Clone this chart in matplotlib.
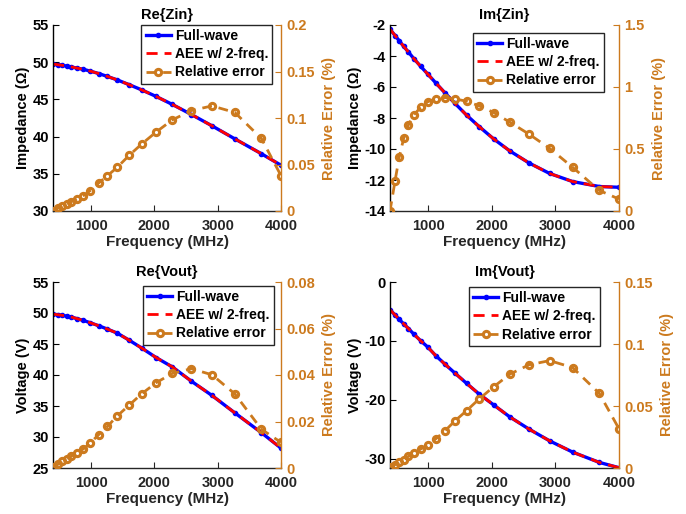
import matplotlib
matplotlib.use("Agg")
import matplotlib.pyplot as plt
from matplotlib.ticker import FuncFormatter

plt.rcParams["font.family"] = ["Liberation Sans", "DejaVu Sans"]
plt.rcParams["font.weight"] = "bold"
plt.rcParams["axes.labelweight"] = "bold"
plt.rcParams["axes.titleweight"] = "bold"

# Frequency grid (MHz), shared by all four panels
freq_mhz = [400, 480, 545, 615, 690, 775, 880, 990, 1120, 1260, 1415,
            1605, 1800, 2030, 2285, 2585, 2910, 3270, 3690, 4000]

# Re{Zin} (Ohm) and relative error (%)
re_zin_fw = [49.75, 49.66, 49.58, 49.48, 49.37, 49.21, 49.04, 48.80, 48.48, 48.08,
             47.62, 46.97, 46.28, 45.39, 44.32, 42.97, 41.45, 39.70, 37.70, 36.15]
re_zin_aee = [49.75, 49.66, 49.58, 49.48, 49.37, 49.21, 49.04, 48.80, 48.48, 48.08,
              47.62, 46.97, 46.28, 45.39, 44.32, 42.97, 41.45, 39.70, 37.70, 36.15]
re_zin_err = [0.0005, 0.003, 0.005, 0.007, 0.010, 0.0125, 0.0165, 0.022, 0.030, 0.038,
              0.047, 0.060, 0.072, 0.085, 0.098, 0.108, 0.113, 0.106, 0.078, 0.038]

# Im{Zin} (Ohm) and relative error (%)
im_zin_fw = [-2.27, -2.68, -3.02, -3.38, -3.75, -4.17, -4.66, -5.15, -5.74, -6.36,
             -7.03, -7.82, -8.55, -9.35, -10.13, -10.90, -11.58, -12.10, -12.42, -12.47]
im_zin_aee = [-2.27, -2.68, -3.02, -3.38, -3.75, -4.17, -4.66, -5.15, -5.74, -6.36,
              -7.03, -7.82, -8.55, -9.35, -10.13, -10.90, -11.58, -12.10, -12.42, -12.47]
im_zin_err = [0.0, 0.245, 0.435, 0.585, 0.695, 0.775, 0.835, 0.88, 0.905, 0.915,
              0.905, 0.885, 0.848, 0.794, 0.716, 0.62, 0.505, 0.353, 0.166, 0.096]

# Re{Vout} (V) and relative error (%)
re_vout_fw = [49.80, 49.72, 49.62, 49.50, 49.35, 49.10, 48.80, 48.42, 47.95, 47.40,
              46.75, 45.60, 44.35, 42.80, 41.30, 39.00, 36.70, 33.90, 30.70, 28.20]
re_vout_aee = [49.80, 49.72, 49.62, 49.50, 49.35, 49.10, 48.80, 48.42, 47.95, 47.40,
               46.75, 45.60, 44.35, 42.80, 41.30, 39.00, 36.70, 33.90, 30.70, 28.20]
re_vout_err = [0.0004, 0.0016, 0.0028, 0.004, 0.0051, 0.0065, 0.0082, 0.0108, 0.0143, 0.0179,
               0.0224, 0.0271, 0.0319, 0.0367, 0.0407, 0.0427, 0.0401, 0.0319, 0.0167, 0.011]

# Im{Vout} (V) and relative error (%)
im_vout_fw = [-4.7, -5.6, -6.35, -7.1, -7.9, -8.85, -9.95, -11.0, -12.5, -13.9,
              -15.4, -17.2, -19.0, -20.85, -22.9, -24.95, -26.95, -28.85, -30.6, -31.5]
im_vout_aee = [-4.7, -5.6, -6.35, -7.1, -7.9, -8.85, -9.95, -11.0, -12.5, -13.9,
               -15.4, -17.2, -19.0, -20.85, -22.9, -24.95, -26.95, -28.85, -30.6, -31.5]
im_vout_err = [0.0008, 0.0027, 0.0048, 0.0067, 0.0094, 0.0123, 0.0152, 0.0182, 0.0235, 0.0297,
               0.0377, 0.0463, 0.0556, 0.0655, 0.0757, 0.0832, 0.0866, 0.081, 0.0602, 0.0316]

titles = ["Re{Zin}", "Im{Zin}", "Re{Vout}", "Im{Vout}"]
ylabels = ["Impedance (\u03a9)", "Impedance (\u03a9)", "Voltage (V)", "Voltage (V)"]
series = [(re_zin_fw, re_zin_aee, re_zin_err),
          (im_zin_fw, im_zin_aee, im_zin_err),
          (re_vout_fw, re_vout_aee, re_vout_err),
          (im_vout_fw, im_vout_aee, im_vout_err)]

# axis ranges / ticks per panel
left_lims = [(30, 55), (-14, -2), (25, 55), (-31.55, 0)]
left_ticks = [[30, 35, 40, 45, 50, 55], [-14, -12, -10, -8, -6, -4, -2],
              [25, 30, 35, 40, 45, 50, 55], [-30, -20, -10, 0]]
right_lims = [(0, 0.2), (0, 1.5), (0, 0.08), (0, 0.15)]
right_ticks = [[0, 0.05, 0.1, 0.15, 0.2], [0, 0.5, 1, 1.5],
               [0, 0.02, 0.04, 0.06, 0.08], [0, 0.05, 0.1, 0.15]]

# axes rectangles in pixels (left, top, right, bottom) of a 686x514 canvas
W, H = 686, 514
rects_px = [(53, 25, 281, 211), (390, 25, 619, 211),
            (53, 282, 281, 468), (390, 282, 619, 468)]
legend_anchor = [(0.962, 1.0), (0.935, 0.957), (0.969, 0.979), (0.917, 0.973)]

ORANGE = "#CC7A1E"
DARK = "#262626"
fmt = FuncFormatter(lambda v, p: f"{v:g}")

fig = plt.figure(figsize=(W / 100, H / 100), dpi=100)

for i in range(4):
    l, t, r, b = rects_px[i]
    ax = fig.add_axes([l / W, 1 - b / H, (r - l) / W, (b - t) / H])
    ax2 = ax.twinx()
    fw, aee, err = series[i]

    h1, = ax.plot(freq_mhz, fw, color="#0000FF", lw=2.4, marker=".", ms=6,
                  label="Full-wave")
    h2, = ax.plot(freq_mhz, aee, color="#FF0000", lw=2, ls=(0, (4, 2.5)),
                  label="AEE w/ 2-freq.")
    h3, = ax2.plot(freq_mhz, err, color=ORANGE, lw=2, ls=(0, (3.5, 2.5)),
                   marker="o", ms=4.5, mfc="none", mew=2.2,
                   label="Relative error")

    ax.set_xlim(400, 4000)
    ax.set_xticks([1000, 2000, 3000, 4000])
    ax.set_ylim(*left_lims[i])
    ax.set_yticks(left_ticks[i])
    ax2.set_ylim(*right_lims[i])
    ax2.set_yticks(right_ticks[i])
    ax.yaxis.set_major_formatter(fmt)
    ax2.yaxis.set_major_formatter(fmt)

    for s in ["top", "right"]:
        ax.spines[s].set_visible(False)
    for s in ["top", "left", "bottom"]:
        ax2.spines[s].set_visible(False)
    ax.spines["left"].set_color("black")
    ax.spines["bottom"].set_color(DARK)
    ax2.spines["right"].set_color(ORANGE)
    for sp in list(ax.spines.values()) + list(ax2.spines.values()):
        sp.set_linewidth(1.0)

    ax.tick_params(axis="y", direction="in", length=4, colors="black",
                   labelsize=10.5, pad=3)
    ax.tick_params(axis="x", direction="in", length=4, colors=DARK,
                   labelsize=10.5, pad=6)
    ax2.tick_params(axis="y", direction="in", length=4, colors=ORANGE,
                    labelsize=10.5, pad=4)

    ax.set_xlabel("Frequency (MHz)", fontsize=11, color=DARK, labelpad=1)
    ax.set_ylabel(ylabels[i], fontsize=10.5, color="black", labelpad=2)
    ax2.set_ylabel("Relative Error (%)", fontsize=10.5, color=ORANGE, labelpad=5)
    ax.set_title(titles[i], fontsize=10.5, pad=4)

    leg = ax2.legend(handles=[h1, h2, h3], loc="upper right",
                     bbox_to_anchor=legend_anchor[i], fontsize=10,
                     handlelength=1.8, handletextpad=0.3, borderpad=0.3,
                     labelspacing=0.3, borderaxespad=0, fancybox=False,
                     framealpha=1, edgecolor=DARK)
    leg.get_frame().set_linewidth(1.0)

fig.savefig("out.png", dpi=100)
